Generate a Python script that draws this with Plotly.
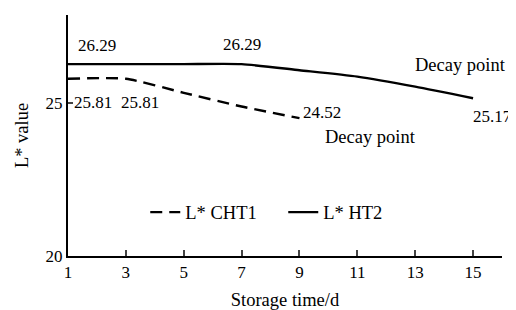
import plotly.graph_objects as go

days_cht1 = [1, 3, 5, 7, 9]
l_cht1 = [25.81, 25.81, 25.35, 24.90, 24.52]
days_ht2 = [1, 3, 5, 7, 9, 11, 13, 15]
l_ht2 = [26.29, 26.29, 26.29, 26.29, 26.09, 25.88, 25.55, 25.17]
x_ticks = [1, 3, 5, 7, 9, 11, 13, 15]
y_ticks = [20, 25]

FONT = "Times New Roman, Liberation Serif, DejaVu Serif, serif"

fig = go.Figure()
fig.add_trace(go.Scatter(x=days_cht1, y=l_cht1, mode="lines", name="L* CHT1",
                         line=dict(color="black", width=2.4, dash="12px,7px", shape="spline", smoothing=0.6)))
fig.add_trace(go.Scatter(x=days_ht2, y=l_ht2, mode="lines", name="L* HT2",
                         line=dict(color="black", width=2.4, shape="spline", smoothing=0.6)))

def lab(x, y, text, xanchor="left", xshift=0, yshift=0, size=17):
    fig.add_annotation(x=x, y=y, text=text, showarrow=False, xanchor=xanchor,
                       yanchor="middle", xshift=xshift, yshift=yshift,
                       font=dict(family=FONT, size=size, color="black"))

lab(days_ht2[0], l_ht2[0], f"{l_ht2[0]:.2f}", xshift=8, yshift=19)
lab(days_ht2[3], l_ht2[3], f"{l_ht2[3]:.2f}", xanchor="center", yshift=20)
lab(days_cht1[0], l_cht1[0], f"{l_cht1[0]:.2f}", xshift=4, yshift=-24)
lab(days_cht1[1], l_cht1[1], f"{l_cht1[1]:.2f}", xanchor="center", xshift=14, yshift=-24)
lab(days_cht1[-1], l_cht1[-1], f"{l_cht1[-1]:.2f}", xshift=2, yshift=6)
lab(days_ht2[-1], l_ht2[-1], f"{l_ht2[-1]:.2f}", xshift=-2, yshift=-18)
lab(14.58, 26.26, "Decay point", xanchor="center", size=18.5)
lab(11.47, 23.9, "Decay point", xanchor="center", size=18.5)

fig.update_layout(
    width=508, height=302,
    margin=dict(l=60, r=14, t=7, b=54),
    paper_bgcolor="white", plot_bgcolor="white",
    font=dict(family=FONT, size=17, color="black"),
    showlegend=True,
    legend=dict(orientation="h", x=0.178, y=0.18, xanchor="left", yanchor="middle",
                bgcolor="rgba(0,0,0,0)", font=dict(family=FONT, size=18.5),
                itemwidth=30, entrywidth=93, tracegroupgap=0),
    xaxis=dict(range=[1, 16], tickvals=x_ticks, ticks="inside", ticklen=6, tickwidth=1.5,
               showline=True, linecolor="black", linewidth=2, showgrid=False, zeroline=False,
               automargin=False,
               title=dict(text="Storage time/d", standoff=13, font=dict(family=FONT, size=18.5)),
               tickfont=dict(family=FONT, size=17)),
    yaxis=dict(range=[20, 27.9], tickvals=y_ticks, ticks="inside", ticklen=5, tickwidth=1.5,
               showline=True, linecolor="black", linewidth=2, showgrid=False, zeroline=False,
               automargin=False,
               title=dict(text="L* value", standoff=12, font=dict(family=FONT, size=18.5)),
               tickfont=dict(family=FONT, size=17)),
)

fig.write_html("out.html")
